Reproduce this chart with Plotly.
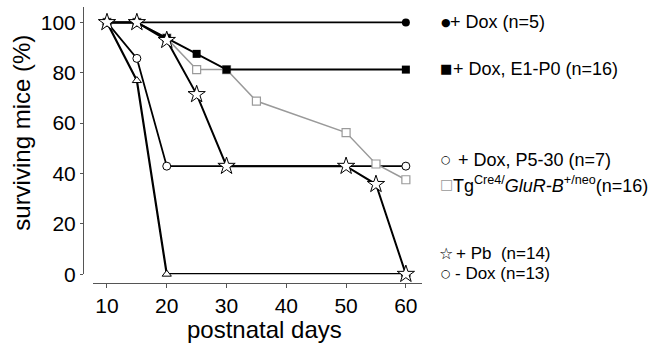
import plotly.graph_objects as go

# Data (postnatal day, % surviving)
dox_x = [10, 15, 60]
dox_y = [100, 100, 100]

e1p0_x = [10, 15, 20, 25, 30, 60]
e1p0_y = [100, 100, 93.75, 87.5, 81.25, 81.25]

tg_x = [10, 15, 20, 25, 30, 35, 50, 55, 60]
tg_y = [100, 100, 93.75, 81.25, 81.25, 68.75, 56.25, 43.75, 37.5]

p530_x = [10, 15, 20, 60]
p530_y = [100, 85.7, 42.9, 42.9]

pb_x = [10, 15, 20, 25, 30, 50, 55, 60]
pb_y = [100, 100, 92.9, 71.4, 42.9, 42.9, 35.7, 0]

nodox_x = [10, 15, 20, 60]
nodox_y = [100, 76.9, 0, 0]

x_ticks = [10, 20, 30, 40, 50, 60]
y_ticks = [0, 20, 40, 60, 80, 100]

legend_labels = [
    "+ Dox (n=5)",
    "+ Dox, E1-P0 (n=16)",
    "+ Dox, P5-30 (n=7)",
    "Tg<sup>Cre4/</sup><i>GluR-B</i><sup>+/neo</sup>(n=16)",
    "+ Pb  (n=14)",
    "- Dox (n=13)",
]
legend_glyphs = ["\u25CF", "\u25A0", "\u25CB", "\u25A1", "\u2606", "\u25CB"]

W, H = 659, 352
def PX(px):
    return px / W
def PY(py):
    return 1 - py / H

legend_rows = [23, 71, 165, 190, 262, 282]
legend_text_x = [450, 453, 458, 453, 456, 455]
legend_sizes = [18, 18, 18, 18, 17, 17]
glyph_sizes = [11, 13, 11, 14, 16, 11]
glyph_colors = ["black", "black", "black", "#999999", "black", "black"]

FONT = "Liberation Sans, Arial, sans-serif"
GRAY = "#9a9a9a"

fig = go.Figure()

fig.add_trace(go.Scatter(x=nodox_x, y=nodox_y, mode="lines+markers",
                         line=dict(color="black", width=2.2),
                         marker=dict(symbol="triangle-up", size=8, color="white",
                                     line=dict(color="black", width=1)),
                         cliponaxis=False))
fig.add_trace(go.Scatter(x=p530_x, y=p530_y, mode="lines+markers",
                         line=dict(color="black", width=1.8),
                         marker=dict(symbol="circle", size=8, color="white",
                                     line=dict(color="black", width=1)),
                         cliponaxis=False))
fig.add_trace(go.Scatter(x=tg_x, y=tg_y, mode="lines+markers",
                         line=dict(color=GRAY, width=1.5),
                         marker=dict(symbol="square", size=8, color="white",
                                     line=dict(color=GRAY, width=1.2)),
                         cliponaxis=False))
fig.add_trace(go.Scatter(x=e1p0_x, y=e1p0_y, mode="lines+markers",
                         line=dict(color="black", width=2),
                         marker=dict(symbol="square", size=8, color="black"),
                         cliponaxis=False))
fig.add_trace(go.Scatter(x=dox_x, y=dox_y, mode="lines+markers",
                         line=dict(color="black", width=1.8),
                         marker=dict(symbol="circle", size=8, color="black"),
                         cliponaxis=False))
fig.add_trace(go.Scatter(x=pb_x, y=pb_y, mode="lines+markers",
                         line=dict(color="black", width=2),
                         marker=dict(symbol="star", size=13, color="white",
                                     line=dict(color="black", width=1)),
                         cliponaxis=False))

for txt, g, gs, gc, row, tx, ls in zip(legend_labels, legend_glyphs, glyph_sizes,
                                      glyph_colors, legend_rows, legend_text_x,
                                      legend_sizes):
    fig.add_annotation(text=g, xref="paper", yref="paper", x=PX(446), y=PY(row),
                       xanchor="center", yanchor="middle", showarrow=False,
                       font=dict(family="DejaVu Sans", size=gs, color=gc))
    fig.add_annotation(text=txt, xref="paper", yref="paper", x=PX(tx - 2), y=PY(row),
                       xanchor="left", yanchor="middle", showarrow=False,
                       font=dict(family=FONT, size=ls, color="black"))

fig.add_annotation(text="postnatal days", xref="paper", yref="paper",
                   x=PX(264), y=PY(340), xanchor="center", yanchor="middle",
                   showarrow=False, font=dict(family=FONT, size=24, color="black"))
fig.add_annotation(text="surviving mice (%)", xref="paper", yref="paper",
                   x=PX(22), y=PY(137), xanchor="center", yanchor="middle",
                   textangle=-90, showarrow=False,
                   font=dict(family=FONT, size=24, color="black"))

fig.update_layout(
    width=W, height=H,
    margin=dict(l=0, r=0, t=0, b=0),
    paper_bgcolor="white", plot_bgcolor="white",
    showlegend=False,
    font=dict(family=FONT, color="black"),
    xaxis=dict(domain=[PX(93), PX(422)], range=[7.66, 62.7],
               anchor="free", position=PY(292),
               showline=True, linecolor="#555", linewidth=1,
               ticks="outside", ticklen=4, tickcolor="#555",
               tickvals=x_ticks, showgrid=False, zeroline=False,
               tickfont=dict(size=21, family=FONT)),
    yaxis=dict(domain=[PY(283), PY(7)], range=[0, 106.2],
               anchor="free", position=PX(83),
               showline=True, linecolor="#555", linewidth=1,
               ticks="outside", ticklen=3, tickcolor="#555",
               tickvals=y_ticks, showgrid=False, zeroline=False,
               tickfont=dict(size=21, family=FONT)),
)

fig.write_html(
    "out.html",
    config={"displayModeBar": False},
    post_script="document.body.style.margin='0';document.body.style.overflow='hidden';",
)
